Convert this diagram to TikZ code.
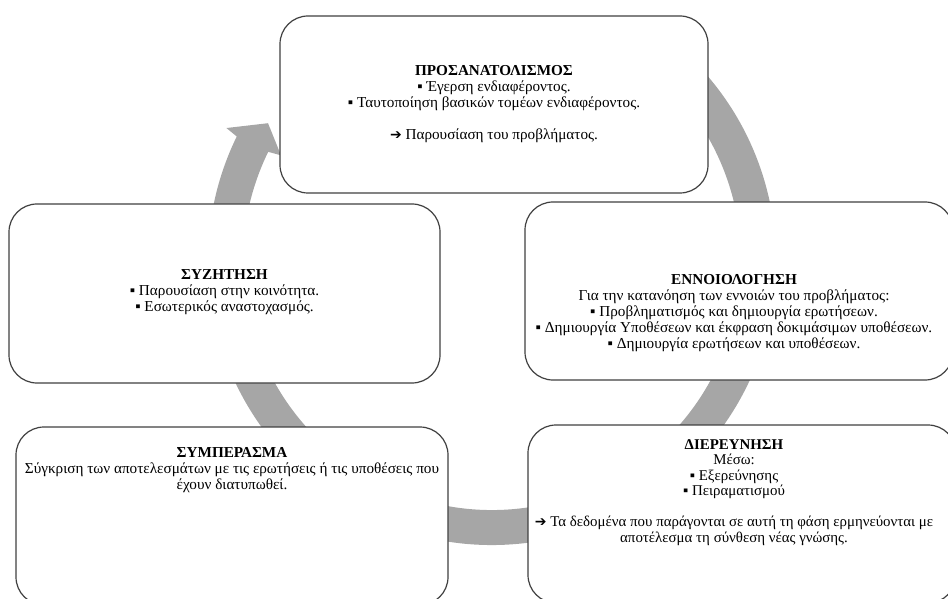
\documentclass[tikz,border=0pt]{standalone}
\usepackage{fontspec}
\setmainfont{Liberation Serif}
\newfontfamily\arrowfont{DejaVu Sans}
\newcommand{\pointer}{{\arrowfont\fontsize{14}{14}\selectfont ➔}}
\usetikzlibrary{positioning, calc}

\begin{document}
\begin{tikzpicture}[
    x=1pt, y=1pt,
    phase/.style={draw=black!75, line width=1.2pt, rounded corners=28pt, fill=white,
      minimum width=428pt, minimum height=178pt, inner sep=0pt},
    txt/.style={align=center, inner sep=0pt, font=\fontsize{15.2}{15.9}\selectfont},
    ring/.style={fill=black!35}
  ]
    \useasboundingbox (0,0) rectangle (948,598);
    \clip (0,0) rectangle (948,598);
    % the circular arrow behind the boxes
    \coordinate (c) at (492,337);
    \fill[ring] ($(c)+(58:284)$) arc[start angle=58, end angle=-206, radius=284]
      -- ($(c)+(-206.6:297)$) -- ($(c)+(-211.6:263)$) -- ($(c)+(-206.6:236)$)
      -- ($(c)+(-206:249)$) arc[start angle=-206, end angle=58, radius=249] -- cycle;

    \node[phase, minimum height=177pt] (orient) at (494,493.5) {};
    \node[phase] (concept) at (739,307) {};
    \node[phase, minimum width=431pt, minimum height=179pt] (discuss) at (224.5,304.5) {};
    \node[phase, minimum width=432pt] (conclude) at (232,82) {};
    \node[phase] (explore) at (742,84) {};

    \node[txt, below=50pt of orient.north] (orient-txt) {\textbf{ΠΡΟΣΑΝΑΤΟΛΙΣΜΟΣ}\\
      ▪ Έγερση ενδιαφέροντος.\\
      ▪ Ταυτοποίηση βασικών τομέων ενδιαφέροντος.\\[16pt]
      \pointer\ Παρουσίαση του προβλήματος.};
    \node[txt, below=73pt of concept.north, xshift=-5pt] (concept-txt) {\textbf{ΕΝΝΟΙΟΛΟΓΗΣΗ}\\
      Για την κατανόηση των εννοιών του προβλήματος:\\
      ▪ Προβληματισμός και δημιουργία ερωτήσεων.\\
      ▪ Δημιουργία Υποθέσεων και έκφραση δοκιμάσιμων υποθέσεων.\\
      ▪ Δημιουργία ερωτήσεων και υποθέσεων.};
    \node[txt, below=66pt of discuss.north] (discuss-txt) {\textbf{ΣΥΖΗΤΗΣΗ}\\
      ▪ Παρουσίαση στην κοινότητα.\\
      ▪ Εσωτερικός αναστοχασμός.};
    \node[txt, below=21pt of conclude.north] (conclude-txt) {\textbf{ΣΥΜΠΕΡΑΣΜΑ}\\
      Σύγκριση των αποτελεσμάτων με τις ερωτήσεις ή τις υποθέσεις που\\
      έχουν διατυπωθεί.};
    \node[txt, font=\fontsize{14.9}{15.5}\selectfont, below=15pt of explore.north, xshift=-8pt]
      (explore-txt) {\textbf{ΔΙΕΡΕΥΝΗΣΗ}\\
      Μέσω:\\
      ▪ Εξερεύνησης\\
      ▪ Πειραματισμού\\[15.5pt]
      \pointer\ Τα δεδομένα που παράγονται σε αυτή τη φάση ερμηνεύονται με\\
      αποτέλεσμα τη σύνθεση νέας γνώσης.};
  \end{tikzpicture}
\end{document}
